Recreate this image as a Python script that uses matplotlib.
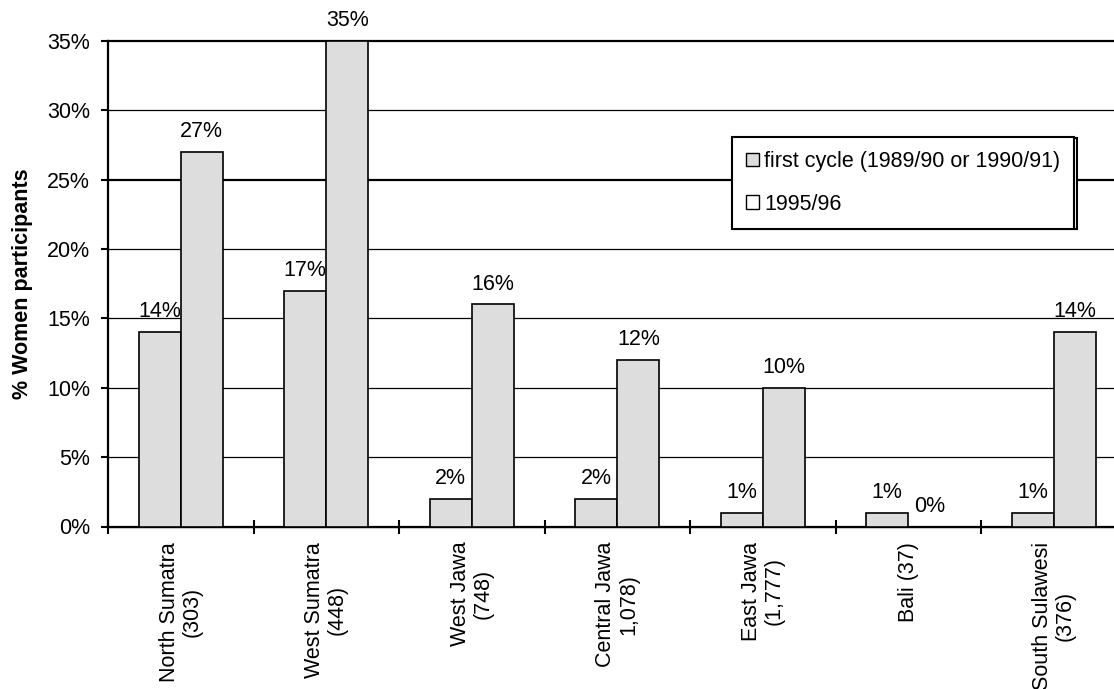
import matplotlib
matplotlib.use('Agg')
import matplotlib.pyplot as plt
import numpy as np
from matplotlib.patches import Patch
from matplotlib.ticker import FixedLocator, FuncFormatter

categories = ["North Sumatra\n(303)", "West Sumatra\n(448)", "West Jawa\n(748)",
              "Central Jawa\n1,078)", "East Jawa\n(1,777)", "Bali (37)",
              "South Sulawesi\n(376)"]
first_cycle = [14, 17, 2, 2, 1, 1, 1]
cycle_9596 = [27, 35, 16, 12, 10, 0, 14]
series_names = ["first cycle (1989/90 or 1990/91)", "1995/96"]
y_ticks = [0, 5, 10, 15, 20, 25, 30, 35]
y_label = "% Women participants"

plt.rcParams['font.family'] = ['Liberation Sans', 'DejaVu Sans']
FS = 15.5

fig = plt.figure(figsize=(11.14, 6.89), dpi=100)
ax = fig.add_axes([108 / 1114, (689 - 526.5) / 689, 1018.5 / 1114, 485.8 / 689])

x = np.arange(len(categories))
w = 0.29
bar_kw = dict(color='#dddddd', edgecolor='black', linewidth=1.2, zorder=3)
b1 = ax.bar(x - w / 2, first_cycle, w, **bar_kw)
b2 = ax.bar(x + w / 2, cycle_9596, w, **bar_kw)

for bars, vals in ((b1, first_cycle), (b2, cycle_9596)):
    ax.bar_label(bars, labels=[f"{v}%" for v in vals], padding=7, fontsize=FS)

ax.set_xlim(-0.5, len(categories) - 0.5)
ax.set_ylim(0, 35)
ax.set_yticks(y_ticks)
ax.yaxis.set_major_formatter(FuncFormatter(lambda v, p: f"{v:.0f}%"))
ax.set_xticks(x)
ax.set_xticklabels(categories, rotation=90, fontsize=FS, va='top', ha='center',
                   multialignment='center', linespacing=1.1)
ax.xaxis.set_minor_locator(FixedLocator(np.arange(-0.5, len(categories), 1.0)))
ax.tick_params(axis='x', which='major', length=0, pad=11)
ax.tick_params(axis='x', which='minor', direction='inout', length=10, width=1.5)
ax.tick_params(axis='y', direction='out', length=5, width=1.5, labelsize=FS, pad=8)

ax.yaxis.grid(True, color='black', linewidth=0.9)
ax.set_axisbelow(True)
for v, gl in zip(y_ticks, ax.get_ygridlines()):
    gl.set_clip_on(False)
    if v in (25, 35):
        gl.set_linewidth(1.6)

for s in ('top', 'right'):
    ax.spines[s].set_visible(False)
for s in ('left', 'bottom'):
    ax.spines[s].set_linewidth(1.6)

ax.set_ylabel(y_label, fontsize=FS, fontweight='bold', labelpad=10)

handles = [Patch(facecolor='#dddddd', edgecolor='black', linewidth=1.0),
           Patch(facecolor='white', edgecolor='black', linewidth=1.0)]
leg = ax.legend(handles, series_names, loc='upper left',
                bbox_to_anchor=(732 / 1114, 1 - 137 / 689), bbox_transform=fig.transFigure,
                fontsize=FS, frameon=True, fancybox=False, edgecolor='black',
                framealpha=1, handlelength=0.6, handleheight=0.6, handletextpad=0.25,
                labelspacing=1.0, borderpad=0.65, borderaxespad=0,
                shadow={'ox': 2, 'oy': -0.7, 'facecolor': 'white',
                        'edgecolor': 'black', 'alpha': 1, 'linewidth': 1.5})
leg.get_frame().set_linewidth(1.5)

fig.savefig('out.png', dpi=100)
